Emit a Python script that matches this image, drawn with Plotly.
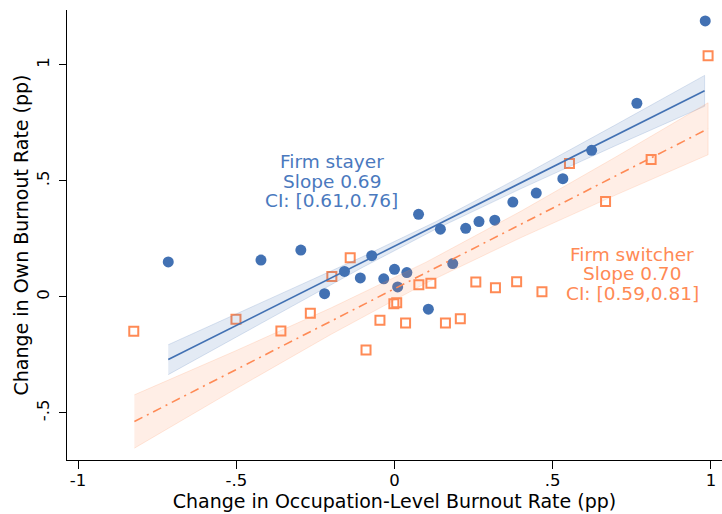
import plotly.graph_objects as go

# ---- data ----
stayer_x = [-0.715, -0.422, -0.296, -0.221, -0.158, -0.108, -0.072, -0.034, 0.000, 0.010,
            0.039, 0.076, 0.107, 0.145, 0.184, 0.225, 0.267, 0.317, 0.374, 0.448,
            0.532, 0.623, 0.766, 0.982]
stayer_y = [0.151, 0.159, 0.202, 0.014, 0.110, 0.082, 0.178, 0.078, 0.119, 0.043,
            0.105, 0.356, -0.053, 0.292, 0.144, 0.296, 0.325, 0.331, 0.409, 0.448,
            0.510, 0.632, 0.835, 1.190]

switcher_x = [-0.824, -0.501, -0.359, -0.266, -0.198, -0.140, -0.090, -0.046, -0.002, 0.007,
              0.035, 0.077, 0.115, 0.161, 0.208, 0.257, 0.319, 0.386, 0.466, 0.553,
              0.667, 0.811, 0.991]
switcher_y = [-0.148, -0.096, -0.147, -0.070, 0.088, 0.169, -0.229, -0.100, -0.029, -0.025,
              -0.112, 0.053, 0.059, -0.112, -0.094, 0.064, 0.040, 0.065, 0.022, 0.575,
              0.411, 0.592, 1.040]

# fitted lines and confidence bands
stayer_fit_x = [-0.715, -0.4, -0.1, 0.13, 0.4, 0.7, 0.98]
stayer_fit_y = [-0.270, -0.055, 0.151, 0.308, 0.493, 0.698, 0.889]
stayer_ci_lo = [-0.335, -0.097, 0.128, 0.292, 0.467, 0.653, 0.822]
stayer_ci_hi = [-0.206, -0.013, 0.174, 0.324, 0.519, 0.743, 0.955]

switcher_fit_x = [-0.822, -0.5, -0.2, 0.1, 0.4, 0.7, 0.991]
switcher_fit_y = [-0.537, -0.313, -0.104, 0.105, 0.313, 0.522, 0.725]
switcher_ci_lo = [-0.652, -0.395, -0.161, 0.060, 0.256, 0.440, 0.613]
switcher_ci_hi = [-0.422, -0.231, -0.047, 0.150, 0.370, 0.604, 0.837]

x_tickvals = [-1, -0.5, 0, 0.5, 1]
x_ticktext = ["-1", "-.5", "0", ".5", "1"]
y_tickvals = [-0.5, 0, 0.5, 1]
y_ticktext = ["-.5", "0", ".5", "1"]

stayer_label = ["Firm stayer", "Slope 0.69", "CI: [0.61,0.76]"]
stayer_label_x = -0.199
stayer_label_y = [0.582, 0.498, 0.414]
switcher_label = ["Firm switcher", "Slope 0.70", "CI: [0.59,0.81]"]
switcher_label_x = 0.751
switcher_label_y = [0.181, 0.099, 0.014]

BLUE = "#4271B3"
BLUE_TXT = "#4A79BE"
ORANGE = "#FF8A55"
FONT = "DejaVu Sans"

fig = go.Figure()

fig.add_trace(go.Scatter(x=stayer_x, y=stayer_y, mode="markers",
                         marker=dict(symbol="circle", size=11, color=BLUE), showlegend=False))
fig.add_trace(go.Scatter(x=switcher_x, y=switcher_y, mode="markers",
                         marker=dict(symbol="square-open", size=9, color=ORANGE,
                                     line=dict(width=2, color=ORANGE)), showlegend=False))

# bands
fig.add_trace(go.Scatter(x=stayer_fit_x + stayer_fit_x[::-1], y=stayer_ci_hi + stayer_ci_lo[::-1],
                         fill="toself", fillcolor="rgba(66,113,179,0.15)",
                         line=dict(color="rgba(66,113,179,0.18)", width=1),
                         mode="lines", showlegend=False, hoverinfo="skip"))
fig.add_trace(go.Scatter(x=switcher_fit_x + switcher_fit_x[::-1], y=switcher_ci_hi + switcher_ci_lo[::-1],
                         fill="toself", fillcolor="rgba(255,138,85,0.15)",
                         line=dict(color="rgba(255,138,85,0.18)", width=1),
                         mode="lines", showlegend=False, hoverinfo="skip"))

fig.add_trace(go.Scatter(x=stayer_fit_x, y=stayer_fit_y, mode="lines",
                         line=dict(color=BLUE, width=1.6), showlegend=False))
fig.add_trace(go.Scatter(x=switcher_fit_x, y=switcher_fit_y, mode="lines",
                         line=dict(color=ORANGE, width=1.6, dash="9px,5px,2px,5px"), showlegend=False))

for txt, yy in zip(stayer_label, stayer_label_y):
    fig.add_annotation(x=stayer_label_x, y=yy, text=txt, showarrow=False,
                       font=dict(family=FONT, size=18.5, color=BLUE_TXT), xanchor="center", yanchor="middle")
for txt, yy in zip(switcher_label, switcher_label_y):
    fig.add_annotation(x=switcher_label_x, y=yy, text=txt, showarrow=False,
                       font=dict(family=FONT, size=18.5, color=ORANGE), xanchor="center", yanchor="middle")

fig.update_layout(
    width=722, height=514,
    margin=dict(l=67, r=0, t=10, b=54),
    paper_bgcolor="white", plot_bgcolor="white",
    font=dict(family=FONT, size=16, color="black"),
    xaxis=dict(range=[-1.035, 1.035], tickvals=x_tickvals, ticktext=x_ticktext,
               automargin=False, tickfont=dict(size=16.5), ticklabelstandoff=-3,
               showgrid=False, zeroline=False, showline=True, linecolor="black", linewidth=1,
               ticks="outside", ticklen=8, tickcolor="black",
               title=dict(text="Change in Occupation-Level Burnout Rate (pp)", standoff=0,
                          font=dict(size=19))),
    yaxis=dict(range=[-0.703, 1.237], tickvals=y_tickvals, ticktext=y_ticktext, tickangle=-90,
               automargin=False, tickfont=dict(size=16.5), ticklabelstandoff=3,
               showgrid=False, zeroline=False, showline=True, linecolor="black", linewidth=1,
               ticks="outside", ticklen=7, tickcolor="black",
               title=dict(text="Change in Own Burnout Rate (pp)", standoff=0,
                          font=dict(size=19))),
)

fig.write_html("out.html", config={"displayModeBar": False},
               post_script="document.body.style.margin='0';document.body.style.overflow='hidden';")
